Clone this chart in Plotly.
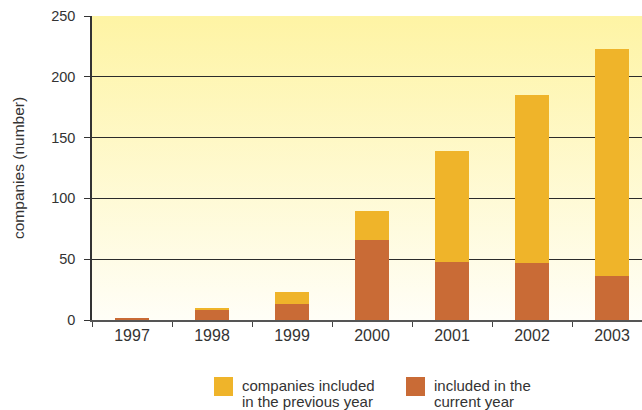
import base64
import plotly.graph_objects as go

# Companies per year, split by when they were first included
years = ["1997", "1998", "1999", "2000", "2001", "2002", "2003"]
current_year = [2, 8, 13, 66, 48, 47, 36]
previous_year = [0, 2, 10, 24, 91, 138, 187]

y_ticks = [0, 50, 100, 150, 200, 250]

YELLOW = "#EFB42A"
ORANGE = "#C96B36"
TEXT = "#333333"
FONT = "Liberation Sans, Arial, sans-serif"

fig = go.Figure()
fig.add_trace(go.Bar(x=years, y=current_year, name="included in the current year",
                     marker=dict(color=ORANGE, line=dict(width=0)), width=0.425))
fig.add_trace(go.Bar(x=years, y=previous_year, name="companies included in the previous year",
                     marker=dict(color=YELLOW, line=dict(width=0)), width=0.425))

# Soft vertical yellow gradient behind the plotting area
svg = (
    '<svg xmlns="http://www.w3.org/2000/svg" width="100" height="100" preserveAspectRatio="none">'
    '<defs><linearGradient id="g" x1="0" y1="0" x2="0" y2="1">'
    '<stop offset="0" stop-color="#FEF4A4"/><stop offset="1" stop-color="#FFFEF7"/>'
    '</linearGradient></defs><rect width="100" height="100" fill="url(#g)"/></svg>'
)
bg_uri = "data:image/svg+xml;base64," + base64.b64encode(svg.encode()).decode()

fig.update_layout(
    width=642, height=410,
    margin=dict(l=92, r=0, t=16, b=90),
    barmode="stack",
    showlegend=False,
    paper_bgcolor="white",
    plot_bgcolor="rgba(0,0,0,0)",
    font=dict(family=FONT, color=TEXT, size=15),
    images=[dict(source=bg_uri, xref="paper", yref="paper", x=0, y=1,
                 sizex=1, sizey=1, sizing="stretch", layer="below", xanchor="left", yanchor="top")],
)

fig.update_xaxes(
    type="category", range=[-0.5, 6.375],
    showline=True, linecolor="#555555", linewidth=1.5,
    ticks="outside", tickson="boundaries", ticklen=5, tickcolor="#444444", tickwidth=1,
    showgrid=False, tickfont=dict(size=16, color=TEXT),
)
fig.update_yaxes(
    range=[0, 250], tickvals=y_ticks,
    showline=True, linecolor="#333333", linewidth=1.5,
    ticks="outside", ticklen=6, tickcolor="#333333", tickwidth=1,
    ticklabelstandoff=6,
    showgrid=True, gridcolor="#2b2b2b", gridwidth=1, zeroline=False,
    tickfont=dict(size=14.5, color=TEXT),
)

# Axis title
fig.add_annotation(text="companies (number)", xref="paper", yref="paper",
                   x=-0.1345, y=0.5, textangle=-90, showarrow=False,
                   xanchor="center", yanchor="middle", font=dict(size=15.5, color=TEXT))

# Legend drawn below the chart
def px_x(p):
    return (p - 92) / 550.0

def px_y(p):
    return (320 - p) / 304.0

legend_items = [
    (YELLOW, 214, ["companies included", "in the previous year"]),
    (ORANGE, 406, ["included in the", "current year"]),
]
for color, left, lines in legend_items:
    fig.add_shape(type="rect", xref="paper", yref="paper",
                  x0=px_x(left), x1=px_x(left + 19), y0=px_y(396), y1=px_y(377),
                  fillcolor=color, line=dict(width=0))
    for i, line in enumerate(lines):
        fig.add_annotation(text=line, xref="paper", yref="paper",
                           x=px_x(left + 26), y=px_y(385.5 + 15.5 * i),
                           xanchor="left", yanchor="middle", showarrow=False,
                           font=dict(size=15, color=TEXT))

fig.write_html("out.html")
